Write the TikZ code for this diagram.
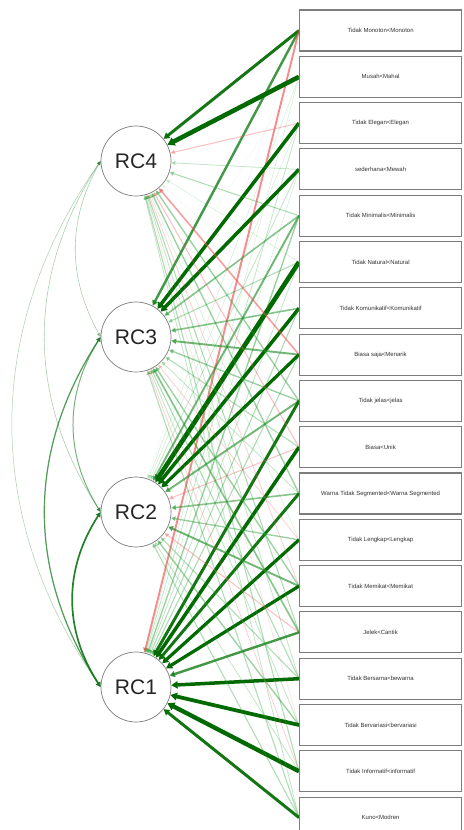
\documentclass[tikz,border=0pt]{standalone}
\usepackage{fontspec}
\setmainfont{Liberation Sans}
\usepackage{tikz}
\usetikzlibrary{
  arrows.meta,
  backgrounds
}
\definecolor{loadgreen}{RGB}{0,105,0}
\definecolor{palegreen}{RGB}{60,190,80}
\definecolor{loadred}{RGB}{232,36,36}
\definecolor{palered}{RGB}{245,120,130}
\definecolor{covgreen}{RGB}{20,120,30}
\definecolor{boxgray}{RGB}{125,125,125}
\tikzset{
  factor/.style={draw=boxgray, circle, fill=white, line width=0.6pt,
    minimum size=2.1cm, inner sep=0pt,
    font=\fontsize{18}{18}\selectfont, text=black!85},
  itembox/.style={draw=boxgray, fill=white, line width=1pt,
    minimum width=4.86cm, minimum height=1.23cm, inner sep=0pt,
    font=\fontsize{5.1}{6}\selectfont, text=black!80},
  loadarr/.style={-{Triangle[length=3pt 0.8, width=2.6pt 1.2]}},
  covarr/.style={{Triangle[length=3pt 0.8, width=2.6pt 1.2]}-{Triangle[length=3pt 0.8, width=2.6pt 1.2]}},
}

\begin{document}
\begin{tikzpicture}[x=0.03cm, y=-0.03cm]
  \useasboundingbox (0,0) rectangle (463,830);

  % Components
  \node[factor] (RC4) at (136,161) {RC4};
  \node[factor] (RC3) at (136,337) {RC3};
  \node[factor] (RC2) at (136,512) {RC2};
  \node[factor] (RC1) at (136,687) {RC1};

  % Items
  \foreach \t [count=\i] in {Tidak Monoton<Monoton, Musah<Mahal,
      Tidak Elegan<Elegan, sederhana<Mewah, Tidak Minimalis<Minimalis,
      Tidak Natural<Natural, Tidak Komunikatif<Komunikatif,
      Biasa saja<Menarik, Tidak jelas<jelas, Biasa<Unik,
      Warna Tidak Segmented<Warna Segmented, Tidak Lengkap<Lengkap,
      Tidak Memikat<Memikat, Jelek<Cantik, Tidak Bersama<bewarna,
      Tidak Bervariasi<bervariasi, Tidak Informatif<informatif,
      Kuno<Modren}
    \node[itembox, anchor=west] (it\i) at (299, {30.5+(\i-1)*46.3}) {\t};

  % Loadings (RC4, RC3, RC2, RC1)
  \begin{scope}[on background layer]
    \foreach \i/\la/\lb/\lc/\ld in {
        1/.55/.45/.05/-.35, 2/.85/.05/.1/.1, 3/-.2/.65/.1/.15,
        4/.15/.65/.15/.1, 5/.2/.3/.35/.25, 6/.1/.2/.85/.15,
        7/.05/.3/.65/.2, 8/-.3/.35/.6/.2, 9/.25/.25/.35/.55,
        10/-.2/.2/-.2/.65, 11/.25/.15/.3/.55, 12/.1/-.15/.25/.6,
        13/-.15/.25/.35/.6, 14/.2/.3/-.2/.45, 15/.15/.2/.2/.65,
        16/-.1/.15/.25/.7, 17/.2/-.15/.15/.8, 18/.15/.2/.2/.55}
      \foreach \r/\v in {4/\la, 3/\lb, 2/\lc, 1/\ld} {
        \pgfmathsetmacro\w{abs(\v)}
        \pgfmathsetmacro\lw{\w*4.6}
        \pgfmathsetmacro\op{min(1,0.05+1.6*\w)}
        \pgfmathsetmacro\mix{min(100,\w*180)}
        \ifdim\v pt<0pt
          \edef\col{loadred!\mix!palered}
        \else
          \edef\col{loadgreen!\mix!palegreen}
        \fi
        \draw[loadarr, draw=\col, line width=\lw pt,
          opacity=\op] (it\i.west) -- (RC\r);
      }

    % Correlations
    \foreach \p/\q/\bend/\v in {4/3/29/.2, 4/2/33/.2, 4/1/35/.18,
        3/2/32/.35, 3/1/33/.45, 2/1/33/.6} {
      \pgfmathsetmacro\lw{\v*2.4}
      \pgfmathsetmacro\op{min(1,0.1+1.4*\v)}
      \draw[covarr, draw=covgreen, line width=\lw pt,
        opacity=\op] (RC\p.west) to[bend right=\bend] (RC\q.west);
    }
  \end{scope}
\end{tikzpicture}
\end{document}
